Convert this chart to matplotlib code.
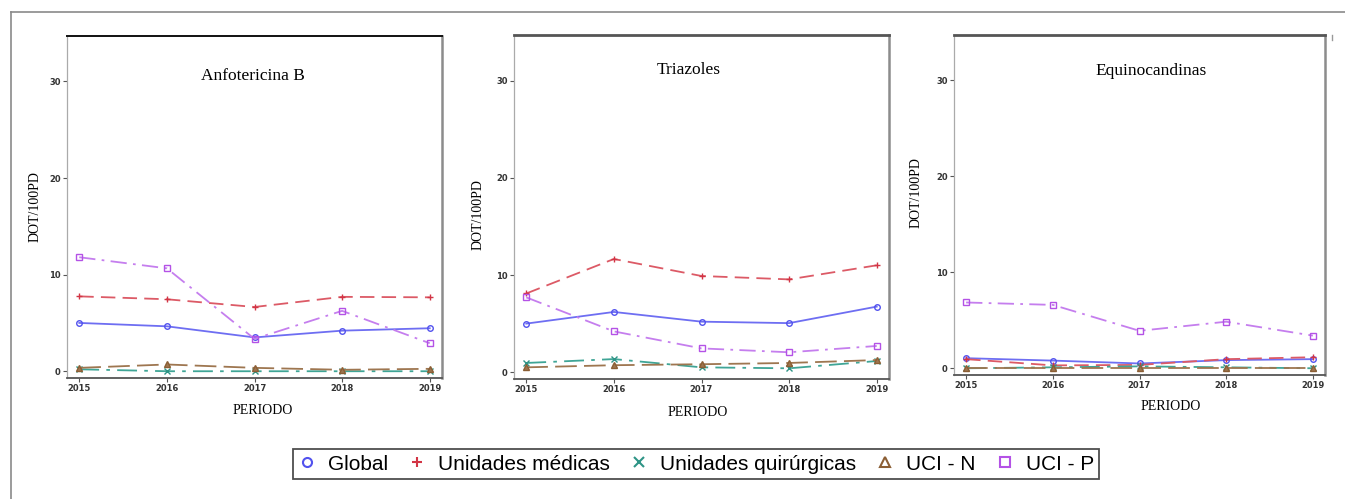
## DOT/100PD por familia de antifúngico, 2015-2019

import matplotlib
matplotlib.use('Agg')
import matplotlib.pyplot as plt
from matplotlib.lines import Line2D

# data
years = [2015, 2016, 2017, 2018, 2019]
series_names = ['Global', 'Unidades médicas', 'Unidades quirúrgicas', 'UCI - N', 'UCI - P']
panel_titles = ['Anfotericina B', 'Triazoles', 'Equinocandinas']
y_ticks = [0, 10, 20, 30]

anfo_global = [5.0, 4.65, 3.5, 4.2, 4.45]
anfo_medicas = [7.75, 7.45, 6.65, 7.7, 7.65]
anfo_quirurgicas = [0.2, 0.0, 0.0, 0.0, 0.0]
anfo_ucin = [0.35, 0.7, 0.35, 0.15, 0.25]
anfo_ucip = [11.8, 10.65, 3.35, 6.25, 2.9]

tria_global = [5.0, 6.2, 5.2, 5.05, 6.75]
tria_medicas = [8.1, 11.65, 9.9, 9.55, 11.0]
tria_quirurgicas = [0.95, 1.35, 0.5, 0.4, 1.15]
tria_ucin = [0.5, 0.72, 0.82, 0.95, 1.25]
tria_ucip = [7.7, 4.2, 2.45, 2.05, 2.7]

equi_global = [1.05, 0.8, 0.5, 0.85, 0.95]
equi_medicas = [0.95, 0.3, 0.35, 0.95, 1.15]
equi_quirurgicas = [0.0, 0.1, 0.2, 0.1, 0.0]
equi_ucin = [0.0, 0.0, 0.0, 0.0, 0.0]
equi_ucip = [6.85, 6.6, 3.9, 4.85, 3.4]

panel_data = [
    [anfo_global, anfo_medicas, anfo_quirurgicas, anfo_ucin, anfo_ucip],
    [tria_global, tria_medicas, tria_quirurgicas, tria_ucin, tria_ucip],
    [equi_global, equi_medicas, equi_quirurgicas, equi_ucin, equi_ucip],
]

# styles
colors = ['#5252EE', '#D23545', '#2E9486', '#8B5E34', '#B452E6']
line_colors = ['#6E6EF2', '#DC5A66', '#3FA596', '#9E7650', '#C57EEE']
markers = ['o', '+', 'x', '^', 's']
linestyles = ['-', (0, (8, 4)), (0, (11, 4, 2, 4)), (0, (12, 4)), (0, (9, 3.5, 1.5, 3.5))]

W, H = 1345, 499
fig = plt.figure(figsize=(W / 100, H / 100), dpi=100)

# axes boxes in pixels: left, top, right, bottom
boxes = [(67, 36, 442, 378), (514, 35, 889, 379), (954, 35, 1325, 375)]
title_pos = [(0.496, 0.883), (0.467, 0.898), (0.531, 0.894)]
ylabel_px = [(35, 207), (478, 215), (916, 193)]
xlabel_px = [(263, 411), (698, 412), (1171, 406)]

serif = ['Liberation Serif', 'DejaVu Serif']

for i in range(3):
    l, t, r, b = boxes[i]
    ax = fig.add_axes([l / W, (H - b) / H, (r - l) / W, (b - t) / H])
    for k in range(5):
        ax.plot(years, panel_data[i][k], color=line_colors[k], linestyle=linestyles[k],
                linewidth=1.3, marker=markers[k], markersize=4, markeredgewidth=1.0,
                markerfacecolor='none' if markers[k] in ('o', 's') else line_colors[k],
                markeredgecolor=colors[k], zorder=3 + k)
    ax.set_xlim(2014.86, 2019.14)
    ax.set_ylim(-0.7, 34.7)
    ax.set_xticks(years)
    ax.set_yticks(y_ticks)
    ax.tick_params(axis='both', labelsize=6, colors='#555555', labelcolor='#333333',
                   length=3, width=0.8, pad=1.5)
    for lab in ax.get_xticklabels() + ax.get_yticklabels():
        lab.set_fontweight('bold')
    ax.text(title_pos[i][0], title_pos[i][1], panel_titles[i], transform=ax.transAxes,
            ha='center', va='center', fontsize=12.5, family=serif)

    # frame like the reference
    ax.spines['left'].set_color('#AAAAAA')
    ax.spines['left'].set_linewidth(0.9)
    ax.spines['right'].set_color('#8C8C8C')
    ax.spines['right'].set_linewidth(1.8)
    ax.spines['bottom'].set_color('#555555')
    ax.spines['bottom'].set_linewidth(1.3)
    if i == 0:
        ax.spines['top'].set_color('#111111')
        ax.spines['top'].set_linewidth(1.4)
    else:
        ax.spines['top'].set_color('#555555')
        ax.spines['top'].set_linewidth(2.0)

    fig.text(ylabel_px[i][0] / W, 1 - ylabel_px[i][1] / H, 'DOT/100PD', rotation=90,
             ha='center', va='center', fontsize=10, family=serif)
    fig.text(xlabel_px[i][0] / W, 1 - xlabel_px[i][1] / H, 'PERIODO',
             ha='center', va='center', fontsize=10, family=serif)

# outer frame (left and top only)
fig.add_artist(Line2D([11 / W, 11 / W], [0, 1 - 12 / H], transform=fig.transFigure,
                      color='#8A8A8A', linewidth=1.2))
fig.add_artist(Line2D([11 / W, 1], [1 - 12 / H, 1 - 12 / H], transform=fig.transFigure,
                      color='#8A8A8A', linewidth=1.2))
# small stray mark at the right of the last panel
fig.add_artist(Line2D([1332 / W, 1332 / W], [1 - 35 / H, 1 - 40 / H], transform=fig.transFigure,
                      color='#999999', linewidth=1.0))

# legend with markers only
handles = [Line2D([], [], linestyle='none', marker=markers[k], color=colors[k],
                  markerfacecolor='none', markersize=6.5, markeredgewidth=1.5)
           for k in range(5)]
leg = fig.legend(handles, series_names, loc='center', ncol=5,
                 bbox_to_anchor=((293 + 1099) / 2 / W, 1 - 464 / H),
                 frameon=True, fancybox=False, handlelength=0.9,
                 handletextpad=0.55, columnspacing=0.95, borderpad=0.25,
                 prop={'family': ['Liberation Sans', 'DejaVu Sans'], 'size': 15})
leg.get_frame().set_edgecolor('#222222')
leg.get_frame().set_linewidth(1.3)

plt.savefig('out.png', dpi=100)
